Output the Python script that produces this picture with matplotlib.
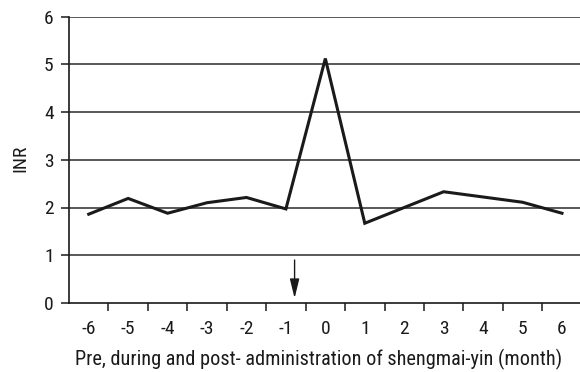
import matplotlib
matplotlib.use("Agg")
import matplotlib.pyplot as plt
from matplotlib import font_manager

months = [-6, -5, -4, -3, -2, -1, 0, 1, 2, 3, 4, 5, 6]
inr = [1.86, 2.19, 1.88, 2.10, 2.21, 1.97, 5.12, 1.67, 2.00, 2.33, 2.22, 2.11, 1.88]
y_ticks = [0, 1, 2, 3, 4, 5, 6]
arrow_x = -0.78
arrow_y = (0.9, 0.1)
xlabel = "Pre, during and post- administration of shengmai-yin (month)"
ylabel = "INR"

names = {f.name for f in font_manager.fontManager.ttflist}
fam = [n for n in ["Liberation Sans Narrow", "Roboto Condensed", "Liberation Sans"] if n in names] + ["DejaVu Sans"]
plt.rcParams["font.family"] = fam

fig = plt.figure(figsize=(5.8, 3.72), dpi=100)
ax = fig.add_axes([69/580, 69/372, 512.7/580, 286.5/372])
ax.set_xlim(months[0] - 0.5, months[-1] + 0.5)
ax.set_ylim(y_ticks[0], y_ticks[-1])

for v in y_ticks[1:]:
    ax.axhline(v, color="#3c3c3c", lw=1.2, zorder=1)

ax.plot(months, inr, color="#1a1a1a", lw=2.2, zorder=3, solid_joinstyle="miter")

ax.annotate("", xy=(arrow_x, arrow_y[1]), xytext=(arrow_x, arrow_y[0]),
            arrowprops=dict(arrowstyle="-|>,head_length=0.9,head_width=0.22", color="#1a1a1a", lw=1.0,
                            mutation_scale=13, shrinkA=0, shrinkB=0))

for s in ["top", "right"]:
    ax.spines[s].set_visible(False)
for s in ["left", "bottom"]:
    ax.spines[s].set_color("#1a1a1a")
    ax.spines[s].set_linewidth(1.2)

bounds = [m + 0.5 for m in months[:-1]]
ax.set_xticks(bounds)
ax.set_xticklabels([])
ax.set_xticks(months, minor=True)
ax.set_xticklabels([str(m) for m in months], minor=True)
ax.tick_params(axis="x", which="major", length=6, width=1.1, color="#1a1a1a", direction="out")
ax.tick_params(axis="x", which="minor", length=0, pad=12, labelsize=14, labelcolor="#1a1a1a")

ax.set_yticks(y_ticks)
ax.set_yticklabels([str(v) for v in y_ticks])
ax.tick_params(axis="y", length=6, width=1.1, color="#1a1a1a", pad=5, labelsize=14, labelcolor="#1a1a1a")

ax.set_xlabel(xlabel, fontsize=14.6, color="#1a1a1a")
ax.set_ylabel(ylabel, fontsize=14, color="#1a1a1a")
ax.xaxis.set_label_coords(0.486, -0.162)
ax.yaxis.set_label_coords(-0.077, 0.506)

fig.savefig("out.png", dpi=100)
